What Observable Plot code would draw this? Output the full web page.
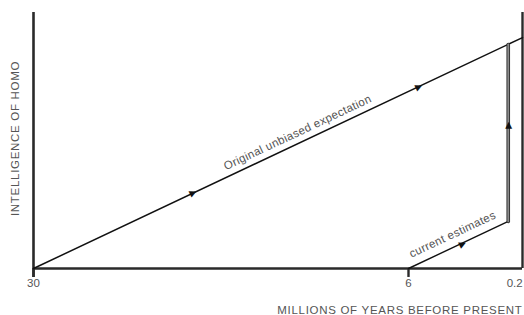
<!DOCTYPE html>
<html>
<head>
<meta charset="utf-8">
<script src="https://cdn.jsdelivr.net/npm/d3@7"></script>
<script src="https://cdn.jsdelivr.net/npm/@observablehq/plot@0.6"></script>
<style>
  html, body { margin: 0; padding: 0; background: #fff; }
  svg { font-family: "Liberation Sans", Arial, sans-serif; }
  .xt, .yt { letter-spacing: 0.7px; }
  .ll { letter-spacing: 0.35px; }
</style>
</head>
<body>
<div id="chart"></div>
<script>
// Millions of years before present (x) and intelligence (arbitrary 0-100, y)
const tickValues = [30, 6, 0.2];
const tickLabels = ["30", "6", "0.2"];
const tickShift = [0, 0, -4];
const majorTicks = [30, 6];

const originalX = [30, 0];
const originalY = [0, 90.2];

const estimatesX = [6, 0.75, 0.75];
const estimatesY = [0, 18.4, 87.5];

// arrowheads
const arrowX = [19.8, 5.47, 3.16, 0.75];
const arrowY = [29.7, 71.1, 9.7, 55.9];
const arrowAngle = [-25.2, -25.2, -25.2, -90];

const xTitle = "MILLIONS OF YEARS BEFORE PRESENT";
const yTitle = "INTELLIGENCE OF HOMO";
const lineLabels = ["Original unbiased expectation", "current estimates"];
const lineLabelX = [13.1, 3.68];
const lineLabelY = [53.1, 13.3];

const original = originalX.map((x, i) => ({x, y: originalY[i]}));
const estimates = estimatesX.map((x, i) => ({x, y: estimatesY[i]}));
const jump = estimates.slice(1);
const slope = estimates.slice(0, 2);
const arrows = arrowX.map((x, i) => ({x, y: arrowY[i], a: arrowAngle[i]}));
const ticks = tickValues.map((x, i) => ({x, label: tickLabels[i], dx: tickShift[i]}));
const labels = lineLabels.map((t, i) => ({t, x: lineLabelX[i], y: lineLabelY[i]}));

const axisColor = "#2a2a2a";
const textColor = "#555";

const chart = Plot.plot({
  width: 524,
  height: 315,
  marginTop: 12,
  marginLeft: 33,
  marginRight: 2,
  marginBottom: 47,
  x: {type: "linear", domain: [30, 6, 0], range: [33, 408, 522], axis: null},
  y: {domain: [0, 100], range: [268, 12], axis: null},
  style: {fontFamily: "'Liberation Sans', Arial, sans-serif", background: "#fff"},
  marks: [
    // axes frame
    Plot.ruleX([30], {y1: -3.5, y2: 100, stroke: axisColor, strokeWidth: 2.6}),
    Plot.ruleX([0], {y1: 0, y2: 100, stroke: axisColor, strokeWidth: 2.4}),
    Plot.ruleY([0], {x1: 30, x2: 0, stroke: axisColor, strokeWidth: 2.6}),
    Plot.ruleX(majorTicks, {y1: -3.5, y2: 0, stroke: axisColor, strokeWidth: 2.4}),
    Plot.text(ticks.slice(0, 2), {x: "x", y: 0, text: "label", dy: 15, fontSize: 11.5, fill: textColor}),
    Plot.text(ticks.slice(2), {x: "x", y: 0, text: "label", dy: 15, dx: -4, fontSize: 11.5, fill: textColor}),
    Plot.text([xTitle], {x: 0, y: 0, dy: 42, textAnchor: "end", fontSize: 11.5, fill: textColor, className: "xt"}),
    Plot.text([yTitle], {x: 30, y: 50.8, dx: -18, rotate: -90, fontSize: 11.5, fill: textColor, className: "yt"}),
    // original expectation
    Plot.line(original, {x: "x", y: "y", stroke: "#111", strokeWidth: 1.5}),
    // current estimates
    Plot.line(slope, {x: "x", y: "y", stroke: "#111", strokeWidth: 1.4}),
    Plot.line(jump, {x: "x", y: "y", stroke: "#2a2a2a", strokeWidth: 3.6}),
    Plot.line(jump, {x: "x", y: "y", stroke: "#8a8a8a", strokeWidth: 1.8}),
    // arrowheads
    Plot.text(arrows, {x: "x", y: "y", text: () => "\u25B6", rotate: "a", fontSize: 9, fill: "#111", fontFamily: "DejaVu Sans"}),
    // line labels
    Plot.text(labels, {x: "x", y: "y", text: "t", rotate: -25.2, fontSize: 11.5, fill: textColor, className: "ll"})
  ]
});
document.getElementById("chart").appendChild(chart);
</script>
</body>
</html>
